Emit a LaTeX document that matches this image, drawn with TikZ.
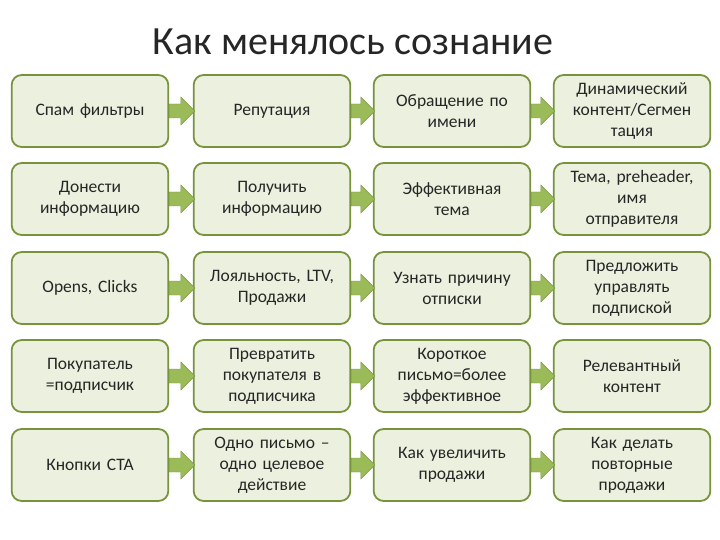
\documentclass[tikz,border=0pt]{standalone}
\usepackage{fontspec}
\setmainfont{Carlito}
\definecolor{boxfill}{HTML}{EBF1DE}
\definecolor{boxline}{HTML}{77933C}
\definecolor{arrfill}{HTML}{9BBB59}
\definecolor{txt}{HTML}{262626}
\begin{document}
\begin{tikzpicture}[x=1pt,y=-1pt,
  cell/.style={draw=boxline,line width=1.8pt,fill=boxfill,rounded corners=10pt,minimum width=152pt,minimum height=72pt,align=center,font=\fontsize{17.5}{21}\selectfont,text width=150pt,text=txt},
  arr/.style={fill=arrfill,draw=arrfill!80!black,line width=0.4pt}]
\useasboundingbox (0,0) rectangle (720,540);
\node[text=txt] (title) at (353,42) {\fontsize{40}{44}\selectfont Как менялось сознание};
\def\xa{90}\def\xb{272}\def\xc{452}\def\xd{632}
\foreach \r/\y/\ta/\tb/\tc/\td in {
 1/111/{Спам фильтры}/{Репутация}/{Обращение по\\имени}/{Динамический\\контент/Сегмен\\тация},
 2/199/{Донести\\информацию}/{Получить\\информацию}/{Эффективная\\тема}/{Тема, preheader,\\имя\\отправителя},
 3/288/{Opens, Clicks}/{Лояльность, LTV,\\Продажи}/{Узнать причину\\отписки}/{Предложить\\управлять\\подпиской},
 4/376/{Покупатель\\=подписчик}/{Превратить\\покупателя в\\подписчика}/{Короткое\\письмо=более\\эффективное}/{Релевантный\\контент},
 5/465/{Кнопки CTA}/{Одно письмо –\\одно целевое\\действие}/{Как увеличить\\продажи}/{Как делать\\повторные\\продажи}}{
  \node[cell] (a\r) at (\xa,\y) {\ta};
  \node[cell] (b\r) at (\xb,\y) {\tb};
  \node[cell] (c\r) at (\xc,\y) {\tc};
  \node[cell] (d\r) at (\xd,\y) {\td};
  \foreach \p/\q in {a/b,b/c,c/d}{
    \path (\p\r.east) coordinate (s) (\q\r.west) coordinate (e);
    \draw[arr] ([shift={(0,-7)}]s) -- ([shift={(-12,-7)}]e) -- ([shift={(-12,-14)}]e) -- ([shift={(2,0)}]e)
      -- ([shift={(-12,14)}]e) -- ([shift={(-12,7)}]e) -- ([shift={(0,7)}]s) -- cycle;
  }
}
\end{tikzpicture}
\end{document}
